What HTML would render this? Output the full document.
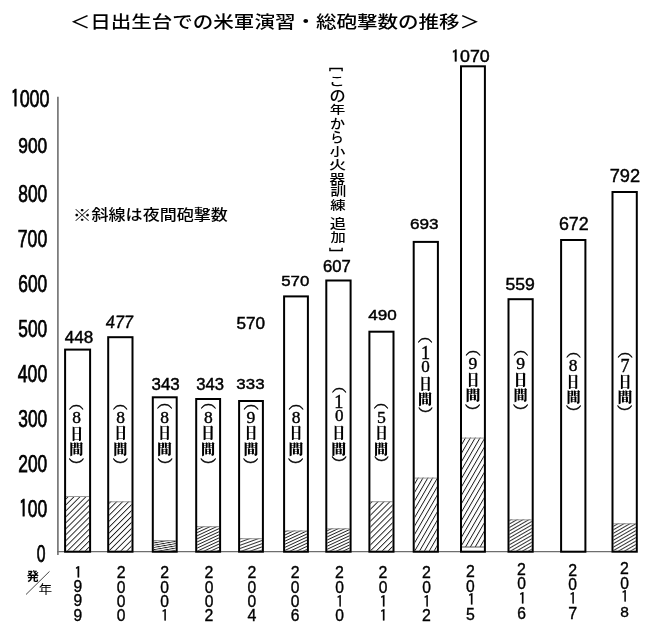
<!DOCTYPE html>
<html lang="ja"><head><meta charset="utf-8"><title>日出生台での米軍演習・総砲撃数の推移</title><style>
html,body{margin:0;padding:0;background:#fff;}
body{width:664px;height:637px;overflow:hidden;}
svg{display:block;}
text{font-kerning:none;}
</style></head><body>
<svg width="664" height="637" viewBox="0 0 664 637">
<defs><pattern id="h0" patternUnits="userSpaceOnUse" width="40" height="4.2" patternTransform="rotate(-45)"><rect width="40" height="0.9" fill="#1a1a1a"/></pattern><pattern id="h1" patternUnits="userSpaceOnUse" width="40" height="4.2" patternTransform="rotate(-45)"><rect width="40" height="0.9" fill="#1a1a1a"/></pattern><pattern id="h2" patternUnits="userSpaceOnUse" width="40" height="2.2" patternTransform="rotate(-10)"><rect width="40" height="0.9" fill="#1a1a1a"/></pattern><pattern id="h3" patternUnits="userSpaceOnUse" width="40" height="2.8" patternTransform="rotate(-25)"><rect width="40" height="0.9" fill="#1a1a1a"/></pattern><pattern id="h4" patternUnits="userSpaceOnUse" width="40" height="3.0" patternTransform="rotate(-20)"><rect width="40" height="0.9" fill="#1a1a1a"/></pattern><pattern id="h5" patternUnits="userSpaceOnUse" width="40" height="2.8" patternTransform="rotate(-25)"><rect width="40" height="0.9" fill="#1a1a1a"/></pattern><pattern id="h6" patternUnits="userSpaceOnUse" width="40" height="2.8" patternTransform="rotate(-25)"><rect width="40" height="0.9" fill="#1a1a1a"/></pattern><pattern id="h7" patternUnits="userSpaceOnUse" width="40" height="4.2" patternTransform="rotate(-45)"><rect width="40" height="0.9" fill="#1a1a1a"/></pattern><pattern id="h8" patternUnits="userSpaceOnUse" width="40" height="4.2" patternTransform="rotate(-60)"><rect width="40" height="0.9" fill="#1a1a1a"/></pattern><pattern id="h9" patternUnits="userSpaceOnUse" width="40" height="4.2" patternTransform="rotate(-60)"><rect width="40" height="0.9" fill="#1a1a1a"/></pattern><pattern id="h10" patternUnits="userSpaceOnUse" width="40" height="3.0" patternTransform="rotate(-30)"><rect width="40" height="0.9" fill="#1a1a1a"/></pattern><pattern id="h12" patternUnits="userSpaceOnUse" width="40" height="3.0" patternTransform="rotate(-30)"><rect width="40" height="0.9" fill="#1a1a1a"/></pattern></defs>
<rect width="664" height="637" fill="#fff"/>
<line x1="57.9" y1="96.7" x2="57.9" y2="555" stroke="#6e6e6e" stroke-width="1.6"/>
<line x1="57" y1="551.7" x2="612" y2="551.7" stroke="#6e6e6e" stroke-width="1.2"/>
<line x1="26" y1="594.5" x2="49.5" y2="571.4" stroke="#333" stroke-width="0.9"/>
<rect x="66.1" y="496.0" width="23.0" height="54.7" fill="url(#h0)"/><rect x="66.1" y="496.0" width="23.0" height="1" fill="#999"/><rect x="65.1" y="349.6" width="25.0" height="202.1" fill="none" stroke="#000" stroke-width="2"/><rect x="109.2" y="501.3" width="22.3" height="49.4" fill="url(#h1)"/><rect x="109.2" y="501.3" width="22.3" height="1" fill="#999"/><rect x="108.2" y="337.2" width="24.3" height="214.5" fill="none" stroke="#000" stroke-width="2"/><rect x="153.8" y="540.2" width="21.9" height="10.5" fill="url(#h2)"/><rect x="153.8" y="540.2" width="21.9" height="1" fill="#999"/><rect x="152.8" y="397.3" width="23.9" height="154.4" fill="none" stroke="#000" stroke-width="2"/><rect x="197.2" y="526.2" width="21.9" height="24.5" fill="url(#h3)"/><rect x="197.2" y="526.2" width="21.9" height="1" fill="#999"/><rect x="196.2" y="399.0" width="23.9" height="152.7" fill="none" stroke="#000" stroke-width="2"/><rect x="240.1" y="538.2" width="21.8" height="12.5" fill="url(#h4)"/><rect x="240.1" y="538.2" width="21.8" height="1" fill="#999"/><rect x="239.1" y="401.0" width="23.8" height="150.7" fill="none" stroke="#000" stroke-width="2"/><rect x="285.1" y="530.5" width="21.8" height="20.2" fill="url(#h5)"/><rect x="285.1" y="530.5" width="21.8" height="1" fill="#999"/><rect x="284.1" y="296.4" width="23.8" height="255.3" fill="none" stroke="#000" stroke-width="2"/><rect x="327.3" y="528.3" width="22.3" height="22.4" fill="url(#h6)"/><rect x="327.3" y="528.3" width="22.3" height="1" fill="#999"/><rect x="326.3" y="280.5" width="24.3" height="271.2" fill="none" stroke="#000" stroke-width="2"/><rect x="370.4" y="501.2" width="22.1" height="49.5" fill="url(#h7)"/><rect x="370.4" y="501.2" width="22.1" height="1" fill="#999"/><rect x="369.4" y="331.7" width="24.1" height="220.0" fill="none" stroke="#000" stroke-width="2"/><rect x="414.7" y="477.6" width="22.2" height="73.1" fill="url(#h8)"/><rect x="414.7" y="477.6" width="22.2" height="1" fill="#999"/><rect x="413.7" y="241.9" width="24.2" height="309.8" fill="none" stroke="#000" stroke-width="2"/><rect x="462.0" y="437.6" width="21.9" height="109.4" fill="url(#h9)"/><rect x="462.0" y="437.6" width="21.9" height="1" fill="#999"/><rect x="462.0" y="546.5" width="21.9" height="1" fill="#555"/><rect x="461.0" y="66.3" width="23.9" height="485.4" fill="none" stroke="#000" stroke-width="2"/><rect x="509.5" y="519.4" width="22.2" height="31.3" fill="url(#h10)"/><rect x="509.5" y="519.4" width="22.2" height="1" fill="#999"/><rect x="508.5" y="299.2" width="24.2" height="252.5" fill="none" stroke="#000" stroke-width="2"/><rect x="561.1" y="240.0" width="24.3" height="311.7" fill="none" stroke="#000" stroke-width="2"/><rect x="613.5" y="523.3" width="22.3" height="27.4" fill="url(#h12)"/><rect x="613.5" y="523.3" width="22.3" height="1" fill="#999"/><rect x="612.5" y="192.0" width="24.3" height="359.7" fill="none" stroke="#000" stroke-width="2"/>
<text x="78.93" y="343.37" fill="#000" font-family='"Liberation Sans", sans-serif' font-size="16.08" text-anchor="middle" textLength="28.47" lengthAdjust="spacingAndGlyphs" stroke="#000" stroke-width="0.45">448</text><text transform="translate(119.04,327.81) skewX(-7) scale(1,1.000)" fill="#000" font-family='"Liberation Sans", sans-serif' font-size="17.84" text-anchor="middle" textLength="27.50" lengthAdjust="spacingAndGlyphs" stroke="#000" stroke-width="0.45">477</text><text x="165.67" y="389.54" fill="#000" font-family='"Liberation Sans", sans-serif' font-size="16.06" text-anchor="middle" textLength="28.27" lengthAdjust="spacingAndGlyphs" stroke="#000" stroke-width="0.45">343</text><text x="210.24" y="389.58" fill="#000" font-family='"Liberation Sans", sans-serif' font-size="16.06" text-anchor="middle" textLength="27.75" lengthAdjust="spacingAndGlyphs" stroke="#000" stroke-width="0.45">343</text><text x="250.50" y="388.86" fill="#000" font-family='"Liberation Sans", sans-serif' font-size="15.35" text-anchor="middle" textLength="28.23" lengthAdjust="spacingAndGlyphs" stroke="#000" stroke-width="0.45">333</text><text x="250.83" y="328.61" fill="#000" font-family='"Liberation Sans", sans-serif' font-size="16.48" text-anchor="middle" textLength="28.61" lengthAdjust="spacingAndGlyphs" stroke="#000" stroke-width="0.45">570</text><text x="295.25" y="286.17" fill="#000" font-family='"Liberation Sans", sans-serif' font-size="15.49" text-anchor="middle" textLength="28.06" lengthAdjust="spacingAndGlyphs" stroke="#000" stroke-width="0.45">570</text><text x="336.90" y="272.17" fill="#000" font-family='"Liberation Sans", sans-serif' font-size="15.63" text-anchor="middle" textLength="27.74" lengthAdjust="spacingAndGlyphs" stroke="#000" stroke-width="0.45">607</text><text x="382.51" y="319.91" fill="#000" font-family='"Liberation Sans", sans-serif' font-size="15.21" text-anchor="middle" textLength="28.53" lengthAdjust="spacingAndGlyphs" stroke="#000" stroke-width="0.45">490</text><text x="424.33" y="229.38" fill="#000" font-family='"Liberation Sans", sans-serif' font-size="15.35" text-anchor="middle" textLength="28.59" lengthAdjust="spacingAndGlyphs" stroke="#000" stroke-width="0.45">693</text><text x="470.39" y="61.55" fill="#000" font-family='"Liberation Sans", sans-serif' font-size="16.20" text-anchor="middle" textLength="38.59" lengthAdjust="spacingAndGlyphs" stroke="#000" stroke-width="0.45"><tspan font-family="'IPAGothic', 'Liberation Sans', sans-serif">1</tspan>070</text><text x="520.17" y="290.24" fill="#000" font-family='"Liberation Sans", sans-serif' font-size="17.32" text-anchor="middle" textLength="29.37" lengthAdjust="spacingAndGlyphs" stroke="#000" stroke-width="0.45">559</text><text x="573.83" y="229.82" fill="#000" font-family='"Liberation Sans", sans-serif' font-size="18.31" text-anchor="middle" textLength="29.82" lengthAdjust="spacingAndGlyphs" stroke="#000" stroke-width="0.45">672</text><text x="624.92" y="182.43" fill="#000" font-family='"Liberation Sans", sans-serif' font-size="18.59" text-anchor="middle" textLength="30.38" lengthAdjust="spacingAndGlyphs" stroke="#000" stroke-width="0.45">792</text><text x="30.13" y="107.23" fill="#000" font-family='"Liberation Sans", sans-serif' font-size="23.52" text-anchor="middle" textLength="38.94" lengthAdjust="spacingAndGlyphs" stroke="#000" stroke-width="0.75"><tspan font-family="'IPAGothic', 'Liberation Sans', sans-serif">1</tspan>000</text><text x="32.75" y="153.12" fill="#000" font-family='"Liberation Sans", sans-serif' font-size="22.96" text-anchor="middle" textLength="28.93" lengthAdjust="spacingAndGlyphs" stroke="#000" stroke-width="0.75">900</text><text x="32.75" y="201.54" fill="#000" font-family='"Liberation Sans", sans-serif' font-size="23.36" text-anchor="middle" textLength="28.96" lengthAdjust="spacingAndGlyphs" stroke="#000" stroke-width="0.75">800</text><text x="32.50" y="246.53" fill="#000" font-family='"Liberation Sans", sans-serif' font-size="23.52" text-anchor="middle" textLength="29.45" lengthAdjust="spacingAndGlyphs" stroke="#000" stroke-width="0.75">700</text><text x="32.75" y="291.53" fill="#000" font-family='"Liberation Sans", sans-serif' font-size="23.52" text-anchor="middle" textLength="28.97" lengthAdjust="spacingAndGlyphs" stroke="#000" stroke-width="0.75">600</text><text x="32.75" y="336.53" fill="#000" font-family='"Liberation Sans", sans-serif' font-size="23.52" text-anchor="middle" textLength="28.97" lengthAdjust="spacingAndGlyphs" stroke="#000" stroke-width="0.75">500</text><text x="32.50" y="381.53" fill="#000" font-family='"Liberation Sans", sans-serif' font-size="23.52" text-anchor="middle" textLength="29.47" lengthAdjust="spacingAndGlyphs" stroke="#000" stroke-width="0.75">400</text><text x="32.75" y="426.53" fill="#000" font-family='"Liberation Sans", sans-serif' font-size="23.52" text-anchor="middle" textLength="28.97" lengthAdjust="spacingAndGlyphs" stroke="#000" stroke-width="0.75">300</text><text x="32.75" y="471.53" fill="#000" font-family='"Liberation Sans", sans-serif' font-size="23.52" text-anchor="middle" textLength="28.97" lengthAdjust="spacingAndGlyphs" stroke="#000" stroke-width="0.75">200</text><text x="33.13" y="517.23" fill="#000" font-family='"Liberation Sans", sans-serif' font-size="23.52" text-anchor="middle" textLength="28.24" lengthAdjust="spacingAndGlyphs" stroke="#000" stroke-width="0.75"><tspan font-family="'IPAGothic', 'Liberation Sans', sans-serif">1</tspan>00</text><text x="41.16" y="561.53" fill="#000" font-family='"Liberation Sans", sans-serif' font-size="23.52" text-anchor="middle" textLength="8.74" lengthAdjust="spacingAndGlyphs" stroke="#000" stroke-width="0.75">0</text><text transform="translate(274.90,27.92) scale(1,0.878)" fill="#000" font-family='"Liberation Sans", "Noto Sans CJK JP", sans-serif' font-size="20.00" text-anchor="middle" font-weight="500" textLength="410.33" lengthAdjust="spacingAndGlyphs">＜日出生台での米軍演習・総砲撃数の推移＞</text><text transform="translate(82.24,220.65) scale(1,0.946)" fill="#000" font-family='"Liberation Sans", "Noto Sans CJK JP", sans-serif' font-size="16.80" text-anchor="middle" font-weight="500" textLength="18.85" lengthAdjust="spacingAndGlyphs">※</text><text transform="translate(159.67,219.59) scale(1,0.899)" fill="#000" font-family='"Liberation Sans", "Noto Sans CJK JP", sans-serif' font-size="16.80" text-anchor="middle" font-weight="500" textLength="136.32" lengthAdjust="spacingAndGlyphs">斜線は夜間砲撃数</text><text transform="translate(32.92,580.97) scale(1,0.951)" fill="#000" font-family='"Liberation Sans", "Noto Sans CJK JP", sans-serif' font-size="13.00" text-anchor="middle" font-weight="bold" textLength="12.23" lengthAdjust="spacingAndGlyphs">発</text><text transform="translate(45.26,593.67) scale(1,0.907)" fill="#000" font-family='"Liberation Sans", "Noto Sans CJK JP", sans-serif' font-size="13.50" text-anchor="middle" textLength="13.65" lengthAdjust="spacingAndGlyphs">年</text><text x="78.19" y="577.84" fill="#000" font-family='"IPAGothic", "Liberation Sans", sans-serif' font-size="15.74" text-anchor="middle" stroke="#000" stroke-width="0.35">1</text><text x="77.84" y="592.02" fill="#000" font-family='"Liberation Sans", sans-serif' font-size="15.63" text-anchor="middle" stroke="#000" stroke-width="0.35">9</text><text x="77.84" y="606.36" fill="#000" font-family='"Liberation Sans", sans-serif' font-size="15.63" text-anchor="middle" stroke="#000" stroke-width="0.35">9</text><text x="77.84" y="621.41" fill="#000" font-family='"Liberation Sans", sans-serif' font-size="15.63" text-anchor="middle" stroke="#000" stroke-width="0.35">9</text><text x="121.16" y="578.33" fill="#000" font-family='"Liberation Sans", sans-serif' font-size="15.86" text-anchor="middle" stroke="#000" stroke-width="0.35">2</text><text x="121.16" y="592.52" fill="#000" font-family='"Liberation Sans", sans-serif' font-size="15.63" text-anchor="middle" stroke="#000" stroke-width="0.35">0</text><text x="121.16" y="606.86" fill="#000" font-family='"Liberation Sans", sans-serif' font-size="15.63" text-anchor="middle" stroke="#000" stroke-width="0.35">0</text><text x="121.16" y="621.21" fill="#000" font-family='"Liberation Sans", sans-serif' font-size="15.63" text-anchor="middle" stroke="#000" stroke-width="0.35">0</text><text x="164.68" y="578.33" fill="#000" font-family='"Liberation Sans", sans-serif' font-size="15.86" text-anchor="middle" stroke="#000" stroke-width="0.35">2</text><text x="164.68" y="592.52" fill="#000" font-family='"Liberation Sans", sans-serif' font-size="15.63" text-anchor="middle" stroke="#000" stroke-width="0.35">0</text><text x="164.68" y="606.86" fill="#000" font-family='"Liberation Sans", sans-serif' font-size="15.63" text-anchor="middle" stroke="#000" stroke-width="0.35">0</text><text x="165.03" y="621.37" fill="#000" font-family='"IPAGothic", "Liberation Sans", sans-serif' font-size="15.74" text-anchor="middle" stroke="#000" stroke-width="0.35">1</text><text x="209.00" y="578.33" fill="#000" font-family='"Liberation Sans", sans-serif' font-size="15.86" text-anchor="middle" stroke="#000" stroke-width="0.35">2</text><text x="209.00" y="592.52" fill="#000" font-family='"Liberation Sans", sans-serif' font-size="15.63" text-anchor="middle" stroke="#000" stroke-width="0.35">0</text><text x="209.00" y="606.86" fill="#000" font-family='"Liberation Sans", sans-serif' font-size="15.63" text-anchor="middle" stroke="#000" stroke-width="0.35">0</text><text x="209.00" y="621.36" fill="#000" font-family='"Liberation Sans", sans-serif' font-size="15.86" text-anchor="middle" stroke="#000" stroke-width="0.35">2</text><text x="251.84" y="578.33" fill="#000" font-family='"Liberation Sans", sans-serif' font-size="15.86" text-anchor="middle" stroke="#000" stroke-width="0.35">2</text><text x="251.84" y="592.52" fill="#000" font-family='"Liberation Sans", sans-serif' font-size="15.63" text-anchor="middle" stroke="#000" stroke-width="0.35">0</text><text x="251.84" y="606.86" fill="#000" font-family='"Liberation Sans", sans-serif' font-size="15.63" text-anchor="middle" stroke="#000" stroke-width="0.35">0</text><text x="251.84" y="621.28" fill="#000" font-family='"Liberation Sans", sans-serif' font-size="15.97" text-anchor="middle" stroke="#000" stroke-width="0.35">4</text><text x="295.16" y="578.33" fill="#000" font-family='"Liberation Sans", sans-serif' font-size="15.86" text-anchor="middle" stroke="#000" stroke-width="0.35">2</text><text x="295.16" y="592.52" fill="#000" font-family='"Liberation Sans", sans-serif' font-size="15.63" text-anchor="middle" stroke="#000" stroke-width="0.35">0</text><text x="295.16" y="606.86" fill="#000" font-family='"Liberation Sans", sans-serif' font-size="15.63" text-anchor="middle" stroke="#000" stroke-width="0.35">0</text><text x="295.16" y="621.21" fill="#000" font-family='"Liberation Sans", sans-serif' font-size="15.63" text-anchor="middle" stroke="#000" stroke-width="0.35">6</text><text x="339.52" y="578.33" fill="#000" font-family='"Liberation Sans", sans-serif' font-size="15.86" text-anchor="middle" stroke="#000" stroke-width="0.35">2</text><text x="339.52" y="592.52" fill="#000" font-family='"Liberation Sans", sans-serif' font-size="15.63" text-anchor="middle" stroke="#000" stroke-width="0.35">0</text><text x="339.87" y="607.03" fill="#000" font-family='"IPAGothic", "Liberation Sans", sans-serif' font-size="15.74" text-anchor="middle" stroke="#000" stroke-width="0.35">1</text><text x="339.52" y="621.21" fill="#000" font-family='"Liberation Sans", sans-serif' font-size="15.63" text-anchor="middle" stroke="#000" stroke-width="0.35">0</text><text x="383.00" y="578.33" fill="#000" font-family='"Liberation Sans", sans-serif' font-size="15.86" text-anchor="middle" stroke="#000" stroke-width="0.35">2</text><text x="383.00" y="592.52" fill="#000" font-family='"Liberation Sans", sans-serif' font-size="15.63" text-anchor="middle" stroke="#000" stroke-width="0.35">0</text><text x="383.35" y="607.03" fill="#000" font-family='"IPAGothic", "Liberation Sans", sans-serif' font-size="15.74" text-anchor="middle" stroke="#000" stroke-width="0.35">1</text><text x="383.35" y="621.37" fill="#000" font-family='"IPAGothic", "Liberation Sans", sans-serif' font-size="15.74" text-anchor="middle" stroke="#000" stroke-width="0.35">1</text><text x="426.50" y="578.33" fill="#000" font-family='"Liberation Sans", sans-serif' font-size="15.86" text-anchor="middle" stroke="#000" stroke-width="0.35">2</text><text x="426.50" y="592.52" fill="#000" font-family='"Liberation Sans", sans-serif' font-size="15.63" text-anchor="middle" stroke="#000" stroke-width="0.35">0</text><text x="426.85" y="607.03" fill="#000" font-family='"IPAGothic", "Liberation Sans", sans-serif' font-size="15.74" text-anchor="middle" stroke="#000" stroke-width="0.35">1</text><text x="426.50" y="621.36" fill="#000" font-family='"Liberation Sans", sans-serif' font-size="15.86" text-anchor="middle" stroke="#000" stroke-width="0.35">2</text><text x="470.32" y="576.65" fill="#000" font-family='"Liberation Sans", sans-serif' font-size="15.86" text-anchor="middle" stroke="#000" stroke-width="0.35">2</text><text x="470.32" y="591.54" fill="#000" font-family='"Liberation Sans", sans-serif' font-size="15.63" text-anchor="middle" stroke="#000" stroke-width="0.35">0</text><text x="471.37" y="605.35" fill="#000" font-family='"IPAGothic", "Liberation Sans", sans-serif' font-size="15.74" text-anchor="middle" stroke="#000" stroke-width="0.35">1</text><text x="470.32" y="620.22" fill="#000" font-family='"Liberation Sans", sans-serif' font-size="15.86" text-anchor="middle" stroke="#000" stroke-width="0.35">5</text><text x="521.48" y="574.99" fill="#000" font-family='"Liberation Sans", sans-serif' font-size="15.86" text-anchor="middle" stroke="#000" stroke-width="0.35">2</text><text x="521.48" y="589.18" fill="#000" font-family='"Liberation Sans", sans-serif' font-size="15.63" text-anchor="middle" stroke="#000" stroke-width="0.35">0</text><text x="522.53" y="603.69" fill="#000" font-family='"IPAGothic", "Liberation Sans", sans-serif' font-size="15.74" text-anchor="middle" stroke="#000" stroke-width="0.35">1</text><text x="521.48" y="618.57" fill="#000" font-family='"Liberation Sans", sans-serif' font-size="15.63" text-anchor="middle" stroke="#000" stroke-width="0.35">6</text><text x="572.68" y="575.67" fill="#000" font-family='"Liberation Sans", sans-serif' font-size="15.86" text-anchor="middle" stroke="#000" stroke-width="0.35">2</text><text x="572.68" y="589.86" fill="#000" font-family='"Liberation Sans", sans-serif' font-size="15.63" text-anchor="middle" stroke="#000" stroke-width="0.35">0</text><text x="573.03" y="604.37" fill="#000" font-family='"IPAGothic", "Liberation Sans", sans-serif' font-size="15.74" text-anchor="middle" stroke="#000" stroke-width="0.35">1</text><text x="572.68" y="618.70" fill="#000" font-family='"Liberation Sans", sans-serif' font-size="16.09" text-anchor="middle" stroke="#000" stroke-width="0.35">7</text><text x="624.50" y="573.65" fill="#000" font-family='"Liberation Sans", sans-serif' font-size="15.86" text-anchor="middle" stroke="#000" stroke-width="0.35">2</text><text x="624.50" y="588.54" fill="#000" font-family='"Liberation Sans", sans-serif' font-size="15.63" text-anchor="middle" stroke="#000" stroke-width="0.35">0</text><text x="624.85" y="602.35" fill="#000" font-family='"IPAGothic", "Liberation Sans", sans-serif' font-size="15.74" text-anchor="middle" stroke="#000" stroke-width="0.35">1</text><text x="624.50" y="616.53" fill="#000" font-family='"Liberation Sans", sans-serif' font-size="15.52" text-anchor="middle" stroke="#000" stroke-width="0.35">8</text><text x="76.33" y="408.41" fill="#000" font-family='"Liberation Serif", "Noto Serif CJK JP", serif' font-size="14.89" text-anchor="middle" textLength="14.58" lengthAdjust="spacingAndGlyphs" stroke="#000" stroke-width="0.45">︵</text><text x="76.68" y="423.21" fill="#000" font-family='"Liberation Serif", serif' font-size="17.48" text-anchor="middle" stroke="#000" stroke-width="0.4">8</text><text x="76.59" y="439.02" fill="#000" font-family='"Liberation Serif", "Noto Serif CJK JP", serif' font-size="14.46" text-anchor="middle" font-weight="900" textLength="12.42" lengthAdjust="spacingAndGlyphs">日</text><text x="76.33" y="454.19" fill="#000" font-family='"Liberation Serif", "Noto Serif CJK JP", serif' font-size="13.89" text-anchor="middle" font-weight="900" textLength="14.23" lengthAdjust="spacingAndGlyphs">間</text><text x="76.33" y="470.56" fill="#000" font-family='"Liberation Serif", "Noto Serif CJK JP", serif' font-size="15.32" text-anchor="middle" textLength="15.27" lengthAdjust="spacingAndGlyphs" stroke="#000" stroke-width="0.45">︶</text><text x="120.33" y="407.73" fill="#000" font-family='"Liberation Serif", "Noto Serif CJK JP", serif' font-size="14.89" text-anchor="middle" textLength="14.58" lengthAdjust="spacingAndGlyphs" stroke="#000" stroke-width="0.45">︵</text><text x="120.68" y="423.23" fill="#000" font-family='"Liberation Serif", serif' font-size="17.48" text-anchor="middle" stroke="#000" stroke-width="0.4">8</text><text x="120.59" y="438.34" fill="#000" font-family='"Liberation Serif", "Noto Serif CJK JP", serif' font-size="14.46" text-anchor="middle" font-weight="900" textLength="12.42" lengthAdjust="spacingAndGlyphs">日</text><text x="120.33" y="454.21" fill="#000" font-family='"Liberation Serif", "Noto Serif CJK JP", serif' font-size="13.89" text-anchor="middle" font-weight="900" textLength="14.23" lengthAdjust="spacingAndGlyphs">間</text><text x="120.33" y="470.58" fill="#000" font-family='"Liberation Serif", "Noto Serif CJK JP", serif' font-size="15.32" text-anchor="middle" textLength="15.22" lengthAdjust="spacingAndGlyphs" stroke="#000" stroke-width="0.45">︶</text><text x="164.66" y="407.38" fill="#000" font-family='"Liberation Serif", "Noto Serif CJK JP", serif' font-size="14.89" text-anchor="middle" textLength="15.25" lengthAdjust="spacingAndGlyphs" stroke="#000" stroke-width="0.45">︵</text><text x="164.66" y="423.23" fill="#000" font-family='"Liberation Serif", serif' font-size="17.48" text-anchor="middle" stroke="#000" stroke-width="0.4">8</text><text x="164.57" y="438.34" fill="#000" font-family='"Liberation Serif", "Noto Serif CJK JP", serif' font-size="14.46" text-anchor="middle" font-weight="900" textLength="12.53" lengthAdjust="spacingAndGlyphs">日</text><text x="164.66" y="454.21" fill="#000" font-family='"Liberation Serif", "Noto Serif CJK JP", serif' font-size="13.89" text-anchor="middle" font-weight="900" textLength="15.05" lengthAdjust="spacingAndGlyphs">間</text><text x="165.01" y="470.58" fill="#000" font-family='"Liberation Serif", "Noto Serif CJK JP", serif' font-size="15.32" text-anchor="middle" textLength="15.22" lengthAdjust="spacingAndGlyphs" stroke="#000" stroke-width="0.45">︶</text><text x="208.34" y="407.38" fill="#000" font-family='"Liberation Serif", "Noto Serif CJK JP", serif' font-size="14.89" text-anchor="middle" textLength="15.25" lengthAdjust="spacingAndGlyphs" stroke="#000" stroke-width="0.45">︵</text><text x="208.34" y="423.23" fill="#000" font-family='"Liberation Serif", serif' font-size="17.48" text-anchor="middle" stroke="#000" stroke-width="0.4">8</text><text x="207.90" y="438.34" fill="#000" font-family='"Liberation Serif", "Noto Serif CJK JP", serif' font-size="14.46" text-anchor="middle" font-weight="900" textLength="13.49" lengthAdjust="spacingAndGlyphs">日</text><text x="207.99" y="454.21" fill="#000" font-family='"Liberation Serif", "Noto Serif CJK JP", serif' font-size="13.89" text-anchor="middle" font-weight="900" textLength="14.23" lengthAdjust="spacingAndGlyphs">間</text><text x="208.34" y="470.58" fill="#000" font-family='"Liberation Serif", "Noto Serif CJK JP", serif' font-size="15.32" text-anchor="middle" textLength="15.97" lengthAdjust="spacingAndGlyphs" stroke="#000" stroke-width="0.45">︶</text><text x="251.00" y="407.73" fill="#000" font-family='"Liberation Serif", "Noto Serif CJK JP", serif' font-size="14.89" text-anchor="middle" textLength="15.19" lengthAdjust="spacingAndGlyphs" stroke="#000" stroke-width="0.45">︵</text><text x="251.00" y="423.22" fill="#000" font-family='"Liberation Serif", serif' font-size="17.61" text-anchor="middle" stroke="#000" stroke-width="0.4">9</text><text x="250.91" y="438.34" fill="#000" font-family='"Liberation Serif", "Noto Serif CJK JP", serif' font-size="14.46" text-anchor="middle" font-weight="900" textLength="12.53" lengthAdjust="spacingAndGlyphs">日</text><text x="251.00" y="454.21" fill="#000" font-family='"Liberation Serif", "Noto Serif CJK JP", serif' font-size="13.89" text-anchor="middle" font-weight="900" textLength="15.05" lengthAdjust="spacingAndGlyphs">間</text><text x="250.65" y="470.58" fill="#000" font-family='"Liberation Serif", "Noto Serif CJK JP", serif' font-size="15.32" text-anchor="middle" textLength="15.22" lengthAdjust="spacingAndGlyphs" stroke="#000" stroke-width="0.45">︶</text><text x="296.00" y="407.73" fill="#000" font-family='"Liberation Serif", "Noto Serif CJK JP", serif' font-size="14.89" text-anchor="middle" textLength="15.19" lengthAdjust="spacingAndGlyphs" stroke="#000" stroke-width="0.45">︵</text><text x="296.00" y="423.23" fill="#000" font-family='"Liberation Serif", serif' font-size="17.48" text-anchor="middle" stroke="#000" stroke-width="0.4">8</text><text x="295.91" y="438.34" fill="#000" font-family='"Liberation Serif", "Noto Serif CJK JP", serif' font-size="14.46" text-anchor="middle" font-weight="900" textLength="12.53" lengthAdjust="spacingAndGlyphs">日</text><text x="296.00" y="454.21" fill="#000" font-family='"Liberation Serif", "Noto Serif CJK JP", serif' font-size="13.89" text-anchor="middle" font-weight="900" textLength="15.05" lengthAdjust="spacingAndGlyphs">間</text><text x="295.65" y="470.58" fill="#000" font-family='"Liberation Serif", "Noto Serif CJK JP", serif' font-size="15.32" text-anchor="middle" textLength="15.26" lengthAdjust="spacingAndGlyphs" stroke="#000" stroke-width="0.45">︶</text><text x="339.17" y="391.23" fill="#000" font-family='"Liberation Serif", "Noto Serif CJK JP", serif' font-size="14.89" text-anchor="middle" textLength="14.48" lengthAdjust="spacingAndGlyphs" stroke="#000" stroke-width="0.45">︵</text><text x="338.82" y="407.86" fill="#000" font-family='"Liberation Serif", serif' font-size="18.18" text-anchor="middle" stroke="#000" stroke-width="0.4">1</text><text x="339.17" y="421.48" fill="#000" font-family='"Liberation Serif", serif' font-size="17.04" text-anchor="middle" stroke="#000" stroke-width="0.4">0</text><text x="338.73" y="437.84" fill="#000" font-family='"Liberation Serif", "Noto Serif CJK JP", serif' font-size="14.46" text-anchor="middle" font-weight="900" textLength="12.53" lengthAdjust="spacingAndGlyphs">日</text><text x="338.82" y="453.71" fill="#000" font-family='"Liberation Serif", "Noto Serif CJK JP", serif' font-size="13.89" text-anchor="middle" font-weight="900" textLength="15.05" lengthAdjust="spacingAndGlyphs">間</text><text x="339.17" y="469.38" fill="#000" font-family='"Liberation Serif", "Noto Serif CJK JP", serif' font-size="15.32" text-anchor="middle" textLength="15.22" lengthAdjust="spacingAndGlyphs" stroke="#000" stroke-width="0.45">︶</text><text x="381.15" y="407.07" fill="#000" font-family='"Liberation Serif", "Noto Serif CJK JP", serif' font-size="14.89" text-anchor="middle" textLength="14.58" lengthAdjust="spacingAndGlyphs" stroke="#000" stroke-width="0.45">︵</text><text x="381.50" y="422.56" fill="#000" font-family='"Liberation Serif", serif' font-size="17.74" text-anchor="middle" stroke="#000" stroke-width="0.4">5</text><text x="381.41" y="437.68" fill="#000" font-family='"Liberation Serif", "Noto Serif CJK JP", serif' font-size="14.46" text-anchor="middle" font-weight="900" textLength="12.42" lengthAdjust="spacingAndGlyphs">日</text><text x="381.15" y="453.55" fill="#000" font-family='"Liberation Serif", "Noto Serif CJK JP", serif' font-size="13.89" text-anchor="middle" font-weight="900" textLength="14.23" lengthAdjust="spacingAndGlyphs">間</text><text x="381.50" y="469.22" fill="#000" font-family='"Liberation Serif", "Noto Serif CJK JP", serif' font-size="15.32" text-anchor="middle" textLength="14.50" lengthAdjust="spacingAndGlyphs" stroke="#000" stroke-width="0.45">︶</text><text x="425.15" y="341.21" fill="#000" font-family='"Liberation Serif", "Noto Serif CJK JP", serif' font-size="14.89" text-anchor="middle" textLength="14.58" lengthAdjust="spacingAndGlyphs" stroke="#000" stroke-width="0.45">︵</text><text x="425.50" y="358.54" fill="#000" font-family='"Liberation Serif", serif' font-size="18.18" text-anchor="middle" stroke="#000" stroke-width="0.4">1</text><text x="425.50" y="372.16" fill="#000" font-family='"Liberation Serif", serif' font-size="17.04" text-anchor="middle" stroke="#000" stroke-width="0.4">0</text><text x="425.41" y="388.52" fill="#000" font-family='"Liberation Serif", "Noto Serif CJK JP", serif' font-size="14.46" text-anchor="middle" font-weight="900" textLength="12.42" lengthAdjust="spacingAndGlyphs">日</text><text x="425.15" y="403.69" fill="#000" font-family='"Liberation Serif", "Noto Serif CJK JP", serif' font-size="13.89" text-anchor="middle" font-weight="900" textLength="14.23" lengthAdjust="spacingAndGlyphs">間</text><text x="425.50" y="420.06" fill="#000" font-family='"Liberation Serif", "Noto Serif CJK JP", serif' font-size="15.32" text-anchor="middle" textLength="14.50" lengthAdjust="spacingAndGlyphs" stroke="#000" stroke-width="0.45">︶</text><text x="473.00" y="354.41" fill="#000" font-family='"Liberation Serif", "Noto Serif CJK JP", serif' font-size="14.89" text-anchor="middle" textLength="15.19" lengthAdjust="spacingAndGlyphs" stroke="#000" stroke-width="0.45">︵</text><text x="473.00" y="369.20" fill="#000" font-family='"Liberation Serif", serif' font-size="17.61" text-anchor="middle" stroke="#000" stroke-width="0.4">9</text><text x="472.91" y="385.02" fill="#000" font-family='"Liberation Serif", "Noto Serif CJK JP", serif' font-size="14.46" text-anchor="middle" font-weight="900" textLength="12.53" lengthAdjust="spacingAndGlyphs">日</text><text x="473.00" y="400.19" fill="#000" font-family='"Liberation Serif", "Noto Serif CJK JP", serif' font-size="13.89" text-anchor="middle" font-weight="900" textLength="15.05" lengthAdjust="spacingAndGlyphs">間</text><text x="472.65" y="416.56" fill="#000" font-family='"Liberation Serif", "Noto Serif CJK JP", serif' font-size="15.32" text-anchor="middle" textLength="15.22" lengthAdjust="spacingAndGlyphs" stroke="#000" stroke-width="0.45">︶</text><text x="520.67" y="354.41" fill="#000" font-family='"Liberation Serif", "Noto Serif CJK JP", serif' font-size="14.89" text-anchor="middle" textLength="14.58" lengthAdjust="spacingAndGlyphs" stroke="#000" stroke-width="0.45">︵</text><text x="520.67" y="369.20" fill="#000" font-family='"Liberation Serif", serif' font-size="17.61" text-anchor="middle" stroke="#000" stroke-width="0.4">9</text><text x="520.58" y="385.02" fill="#000" font-family='"Liberation Serif", "Noto Serif CJK JP", serif' font-size="14.46" text-anchor="middle" font-weight="900" textLength="13.49" lengthAdjust="spacingAndGlyphs">日</text><text x="520.67" y="400.19" fill="#000" font-family='"Liberation Serif", "Noto Serif CJK JP", serif' font-size="13.89" text-anchor="middle" font-weight="900" textLength="14.23" lengthAdjust="spacingAndGlyphs">間</text><text x="520.67" y="416.56" fill="#000" font-family='"Liberation Serif", "Noto Serif CJK JP", serif' font-size="15.32" text-anchor="middle" textLength="15.22" lengthAdjust="spacingAndGlyphs" stroke="#000" stroke-width="0.45">︶</text><text x="573.51" y="355.90" fill="#000" font-family='"Liberation Serif", "Noto Serif CJK JP", serif' font-size="14.89" text-anchor="middle" textLength="14.53" lengthAdjust="spacingAndGlyphs" stroke="#000" stroke-width="0.45">︵</text><text x="573.16" y="371.05" fill="#000" font-family='"Liberation Serif", serif' font-size="17.48" text-anchor="middle" stroke="#000" stroke-width="0.4">8</text><text x="573.07" y="386.86" fill="#000" font-family='"Liberation Serif", "Noto Serif CJK JP", serif' font-size="14.46" text-anchor="middle" font-weight="900" textLength="12.42" lengthAdjust="spacingAndGlyphs">日</text><text x="573.51" y="402.03" fill="#000" font-family='"Liberation Serif", "Noto Serif CJK JP", serif' font-size="13.89" text-anchor="middle" font-weight="900" textLength="14.23" lengthAdjust="spacingAndGlyphs">間</text><text x="573.51" y="418.40" fill="#000" font-family='"Liberation Serif", "Noto Serif CJK JP", serif' font-size="15.32" text-anchor="middle" textLength="15.22" lengthAdjust="spacingAndGlyphs" stroke="#000" stroke-width="0.45">︶</text><text x="625.00" y="355.55" fill="#000" font-family='"Liberation Serif", "Noto Serif CJK JP", serif' font-size="14.89" text-anchor="middle" textLength="15.19" lengthAdjust="spacingAndGlyphs" stroke="#000" stroke-width="0.45">︵</text><text x="625.00" y="371.92" fill="#000" font-family='"Liberation Serif", serif' font-size="18.02" text-anchor="middle" stroke="#000" stroke-width="0.4">7</text><text x="624.91" y="386.86" fill="#000" font-family='"Liberation Serif", "Noto Serif CJK JP", serif' font-size="14.46" text-anchor="middle" font-weight="900" textLength="12.53" lengthAdjust="spacingAndGlyphs">日</text><text x="625.00" y="402.03" fill="#000" font-family='"Liberation Serif", "Noto Serif CJK JP", serif' font-size="13.89" text-anchor="middle" font-weight="900" textLength="15.05" lengthAdjust="spacingAndGlyphs">間</text><text x="624.65" y="418.40" fill="#000" font-family='"Liberation Serif", "Noto Serif CJK JP", serif' font-size="15.32" text-anchor="middle" textLength="15.22" lengthAdjust="spacingAndGlyphs" stroke="#000" stroke-width="0.45">︶</text><text transform="translate(336.00,70.49) scale(1,0.798)" fill="#000" font-family='"Liberation Sans", "Noto Sans CJK JP", sans-serif' font-size="14.68" text-anchor="middle" font-weight="500" textLength="14.10" lengthAdjust="spacingAndGlyphs" stroke="#000" stroke-width="0.5">﹇</text><text transform="translate(336.82,86.19) scale(1,1.073)" fill="#000" font-family='"Liberation Sans", "Noto Sans CJK JP", sans-serif' font-size="11.30" text-anchor="middle" font-weight="500" textLength="15.69" lengthAdjust="spacingAndGlyphs">こ</text><text transform="translate(337.66,100.57) scale(1,0.970)" fill="#000" font-family='"Liberation Sans", "Noto Sans CJK JP", sans-serif' font-size="14.78" text-anchor="middle" font-weight="500" textLength="16.17" lengthAdjust="spacingAndGlyphs">の</text><text transform="translate(337.66,113.94) scale(1,0.750)" fill="#000" font-family='"Liberation Sans", "Noto Sans CJK JP", sans-serif' font-size="15.87" text-anchor="middle" font-weight="500" textLength="15.60" lengthAdjust="spacingAndGlyphs">年</text><text transform="translate(337.42,128.24) scale(1,0.848)" fill="#000" font-family='"Liberation Sans", "Noto Sans CJK JP", sans-serif' font-size="14.89" text-anchor="middle" font-weight="500" textLength="15.08" lengthAdjust="spacingAndGlyphs">か</text><text transform="translate(337.07,141.87) scale(1,1.266)" fill="#000" font-family='"Liberation Sans", "Noto Sans CJK JP", sans-serif' font-size="10.76" text-anchor="middle" font-weight="500" textLength="13.43" lengthAdjust="spacingAndGlyphs">ら</text><text transform="translate(337.66,155.50) scale(1,0.749)" fill="#000" font-family='"Liberation Sans", "Noto Sans CJK JP", sans-serif' font-size="15.87" text-anchor="middle" font-weight="500" textLength="15.65" lengthAdjust="spacingAndGlyphs">小</text><text transform="translate(337.66,169.29) scale(1,0.792)" fill="#000" font-family='"Liberation Sans", "Noto Sans CJK JP", sans-serif' font-size="15.87" text-anchor="middle" font-weight="500" textLength="17.19" lengthAdjust="spacingAndGlyphs">火</text><text transform="translate(337.17,184.12) scale(1,0.792)" fill="#000" font-family='"Liberation Sans", "Noto Sans CJK JP", sans-serif' font-size="15.43" text-anchor="middle" font-weight="500" textLength="15.61" lengthAdjust="spacingAndGlyphs">器</text><text transform="translate(338.28,196.07) scale(1,0.750)" fill="#000" font-family='"Liberation Sans", "Noto Sans CJK JP", sans-serif' font-size="15.98" text-anchor="middle" font-weight="500" textLength="16.17" lengthAdjust="spacingAndGlyphs">訓</text><text transform="translate(337.93,210.41) scale(1,0.749)" fill="#000" font-family='"Liberation Sans", "Noto Sans CJK JP", sans-serif' font-size="15.98" text-anchor="middle" font-weight="500" textLength="15.40" lengthAdjust="spacingAndGlyphs">練</text><text transform="translate(338.01,227.87) scale(1,0.793)" fill="#000" font-family='"Liberation Sans", "Noto Sans CJK JP", sans-serif' font-size="15.87" text-anchor="middle" font-weight="500" textLength="16.38" lengthAdjust="spacingAndGlyphs">追</text><text transform="translate(338.01,241.71) scale(1,0.812)" fill="#000" font-family='"Liberation Sans", "Noto Sans CJK JP", sans-serif' font-size="14.78" text-anchor="middle" font-weight="500" textLength="15.29" lengthAdjust="spacingAndGlyphs">加</text><text transform="translate(336.00,258.34) scale(1,0.798)" fill="#000" font-family='"Liberation Sans", "Noto Sans CJK JP", sans-serif' font-size="14.68" text-anchor="middle" font-weight="500" textLength="14.10" lengthAdjust="spacingAndGlyphs" stroke="#000" stroke-width="0.5">﹈</text>
</svg>
</body></html>
